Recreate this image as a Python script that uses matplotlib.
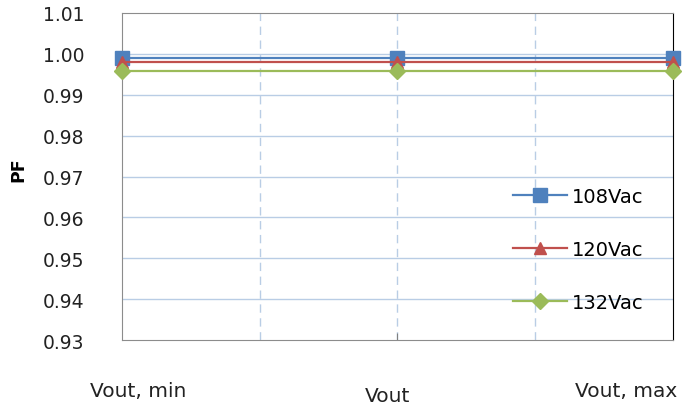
import matplotlib
matplotlib.use("Agg")
import matplotlib.pyplot as plt

#%% Data
categories = ["Vout, min", "Vout", "Vout, max"]
pf_108 = [0.9990, 0.9990, 0.9990]
pf_120 = [0.9981, 0.9981, 0.9981]
pf_132 = [0.9957, 0.9957, 0.9957]
yticks = [0.93, 0.94, 0.95, 0.96, 0.97, 0.98, 0.99, 1.00, 1.01]

#%% Figure
plt.rcParams['font.family'] = ['DejaVu Sans']
fig = plt.figure(figsize=(6.88, 4.10), dpi=100)
ax = fig.add_axes([0.177, 0.168, 0.801, 0.798])

x = list(range(len(categories)))
ax.plot(x, pf_108, '-s', color='#4F81BD', lw=1.6, ms=10, label='108Vac', zorder=3, clip_on=False)
ax.plot(x, pf_120, '-^', color='#C0504D', lw=1.6, ms=9, label='120Vac', zorder=4, clip_on=False)
ax.plot(x, pf_132, '-D', color='#9BBB59', lw=1.6, ms=8, label='132Vac', zorder=5, clip_on=False)

ax.set_xlim(0, 2)
ax.set_ylim(0.93, 1.01)
ax.set_yticks(yticks)
ax.set_yticklabels([f"{v:.2f}" for v in yticks], fontsize=13.5, color='#222222')
ax.tick_params(axis='y', length=0, pad=27)

# grid
for v in yticks[1:-1]:
    ax.axhline(v, color='#B9CDE5', lw=1.0, zorder=1)
for v in [0.5, 1.0, 1.5]:
    ax.axvline(v, color='#B9CDE5', lw=1.0, ls=(0, (6, 4)), zorder=1)

ax.set_xticks([1])
ax.set_xticklabels([''])
ax.tick_params(axis='x', length=5, color='#808080', direction='in')

# category labels (staggered like the original)
ax.text(0.03, -0.153, categories[0], transform=ax.transAxes, ha='center', va='center', fontsize=14.5, color='#222222')
ax.text(0.483, -0.168, categories[1], transform=ax.transAxes, ha='center', va='center', fontsize=14.5, color='#222222')
ax.text(0.915, -0.153, categories[2], transform=ax.transAxes, ha='center', va='center', fontsize=14.5, color='#222222')

for s in ['left', 'bottom', 'top']:
    ax.spines[s].set_color('#8C8C8C')
ax.spines['right'].set_color('black')

ax.set_ylabel('PF', fontsize=12.5, fontweight='bold')
ax.yaxis.set_label_coords(-0.172, 0.523)

ax.legend(loc='center left', bbox_to_anchor=(0.71, 0.277), frameon=False, fontsize=14,
          labelspacing=1.75, handlelength=2.75, handletextpad=0.25, borderpad=0, borderaxespad=0)

plt.savefig('out.png', dpi=100)
